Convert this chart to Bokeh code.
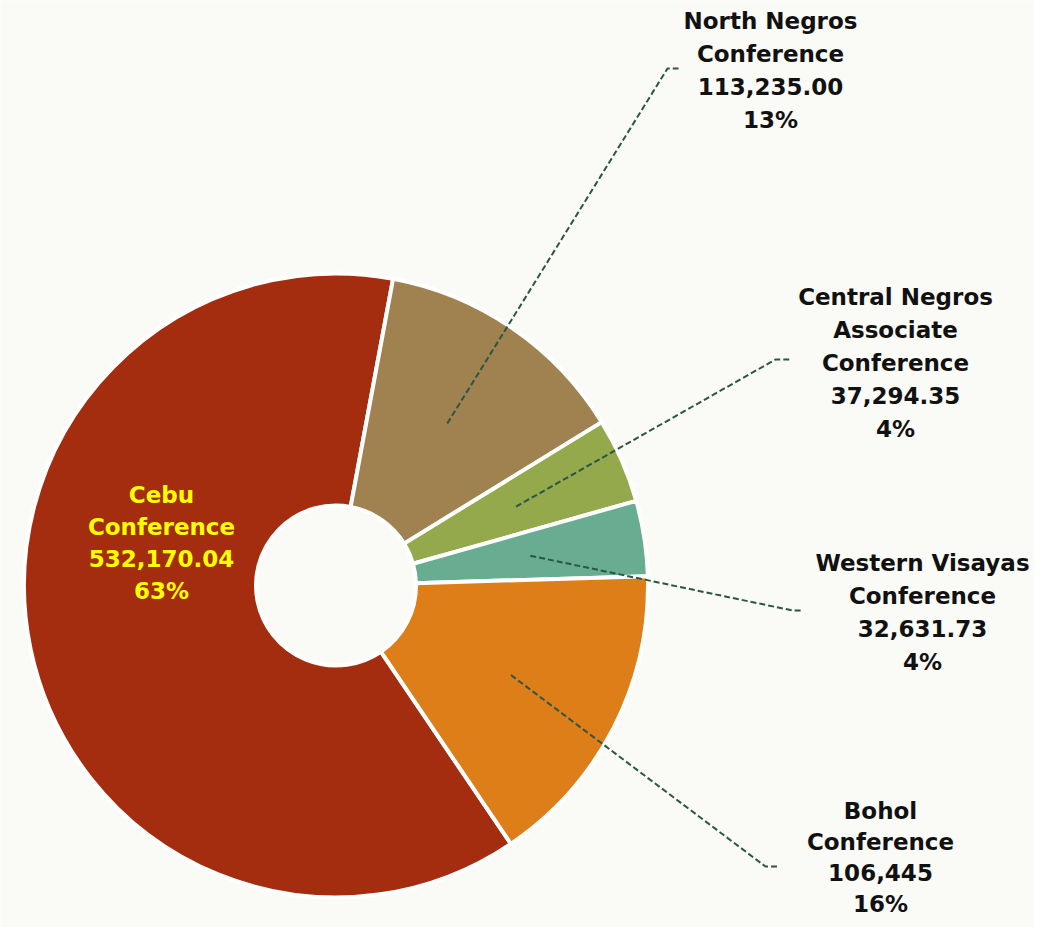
import math
from bokeh.plotting import figure
from bokeh.models import Range1d, ColumnDataSource
from bokeh.embed import file_html
from bokeh.resources import INLINE
from bokeh.core.properties import value

# ---- data ----
names = ["Cebu\nConference", "North Negros\nConference",
         "Central Negros\nAssociate\nConference",
         "Western Visayas\nConference", "Bohol\nConference"]
amounts = ["532,170.04", "113,235.00", "37,294.35", "32,631.73", "106,445"]
pct_labels = ["63%", "13%", "4%", "4%", "16%"]
shares = [62.4, 13.3, 4.4, 3.9, 16.0]          # slice shares as drawn (%)
colors = ["#A52D0F", "#A08250", "#94A84C", "#68AC92", "#DE7E18"]

# ---- layout ----
BG = "#FAFAF6"
W, H = 1034, 927


def Y(py):
    return H - py


cx, cy = 335.5, Y(585)
R_OUT, R_IN = 312, 80
START_DEG = 90 - 145.9   # Cebu begins here, slices run clockwise

label_pos = [(161, 494, 32), (770, 20, 33), (895, 296, 33), (922, 562, 33), (880, 810, 31)]
label_col = ["#FFFF00", "#111111", "#111111", "#111111", "#111111"]
elbows = {1: ((667, 68), (678, 68)), 2: ((775, 359), (789, 359)),
          3: ((792, 610), (802, 610)), 4: ((765, 866), (777, 866))}

p = figure(width=W, height=H, x_range=Range1d(0, W), y_range=Range1d(0, H),
           output_backend="svg", toolbar_location=None,
           x_axis_type=None, y_axis_type=None, min_border=0)
p.grid.visible = False
p.outline_line_color = None
p.background_fill_color = BG
p.border_fill_color = BG

starts, ends, mids = [], [], []
cum = 0.0
for s in shares:
    a0 = START_DEG - cum * 3.6
    a1 = a0 - s * 3.6
    starts.append(math.radians(a0))
    ends.append(math.radians(a1))
    mids.append(math.radians((a0 + a1) / 2))
    cum += s

src = ColumnDataSource(dict(start=starts, end=ends, color=colors))
p.annular_wedge(x=cx, y=cy, inner_radius=R_IN, outer_radius=R_OUT,
                start_angle="start", end_angle="end", direction="clock",
                fill_color="color", line_color="white", line_width=4, source=src)

# leader lines
xs, ys = [], []
for i, ((ex, ey), (fx, fy)) in elbows.items():
    sx = cx + 0.63 * R_OUT * math.cos(mids[i])
    sy = cy + 0.63 * R_OUT * math.sin(mids[i])
    xs.append([sx, ex, fx])
    ys.append([sy, Y(ey), Y(fy)])
p.multi_line(xs=xs, ys=ys, line_color="#2A5646", line_width=2, line_dash="6 3")

# labels
tx, ty, tt, tc = [], [], [], []
for i in range(len(names)):
    lines = names[i].split("\n") + [amounts[i], pct_labels[i]]
    x0, y0, step = label_pos[i]
    for k, ln in enumerate(lines):
        tx.append(x0)
        ty.append(Y(y0 + k * step))
        tt.append(ln)
        tc.append(label_col[i])
tsrc = ColumnDataSource(dict(x=tx, y=ty, t=tt, c=tc))
p.text(x="x", y="y", text="t", text_color="c", source=tsrc,
       text_font=value("DejaVu Sans"), text_font_style="bold",
       text_font_size="23px", text_align="center", text_baseline="middle")

html = file_html(p, INLINE)
html = html.replace("<body>", '<body style="background:%s">' % BG, 1)
open("out.html", "w").write(html)
